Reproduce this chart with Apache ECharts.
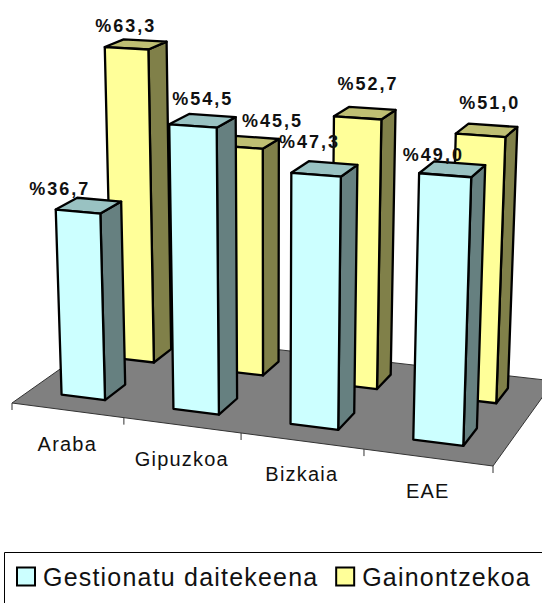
<!DOCTYPE html>
<html><head><meta charset="utf-8">
<style>
html,body{margin:0;padding:0;background:#fff}
#c{width:542px;height:603px}
text{letter-spacing:1.2px}
text[style*="bold"]{letter-spacing:2px}
</style>
<script src="https://cdn.jsdelivr.net/npm/echarts@6/dist/echarts.min.js"></script>
</head><body><div id="c"></div>
<script>
const categories = ['Araba','Gipuzkoa','Bizkaia','EAE'];
const seriesNames = ['Gestionatu daitekeena','Gainontzekoa'];
const gestionatu = [36.7,54.5,47.3,49.0];
const gainontzekoa = [63.3,45.5,52.7,51.0];
const yMax = 70;

// layout: floor of the 3-D box, projected with a plane homography + vertical vanishing point
const floorQuad = [[12,403],[493,466],[554,381],[114,331]];
const vanish = [270,7000], persp = -0.00075;
const barHalf = 0.197;           // half bar width, as fraction of a category band
const depthBlue = [0.16,0.36], depthYellow = [0.66,0.85];
const offsBlue = [[-29,-17],[0,-22],[-15,-27],[-19,-14]];
const offsYellow = [[-10,-18],[24,-21],[3,-29],[3,-27]];

const [p0,p1,p2,p3] = floorQuad;
const dx1=p1[0]-p2[0],dx2=p3[0]-p2[0],sx=p0[0]-p1[0]+p2[0]-p3[0];
const dy1=p1[1]-p2[1],dy2=p3[1]-p2[1],sy=p0[1]-p1[1]+p2[1]-p3[1];
const den=dx1*dy2-dx2*dy1;
const G=(sx*dy2-dx2*sy)/den,H=(dx1*sy-sx*dy1)/den;
const A=p1[0]-p0[0]+G*p1[0],B=p3[0]-p0[0]+H*p3[0];
const D=p1[1]-p0[1]+G*p1[1],E=p3[1]-p0[1]+H*p3[1];
function proj(u,v,h){
  const w=G*u+H*v+1, jh=persp*h, d=w+jh;
  return [(A*u+B*v+p0[0]+jh*vanish[0])/d,(D*u+E*v+p0[1]+jh*vanish[1])/d];
}
function barRenderer(depth,colors,offs){
  return function(params,api){
    const cat=api.value(0),val=api.value(1);
    const cs=params.coordSys;
    const pt=api.coord([cat,val]);
    const band=api.size([1,0])[0];
    const shift=-0.01*band;
    const u0=(pt[0]-cs.x-barHalf*band+shift)/cs.width,u1=(pt[0]-cs.x+barHalf*band+shift)/cs.width;
    const h=(cs.y+cs.height-pt[1])/cs.height*yMax;
    const [v0,v1]=depth;
    const poly=(pts,fill,z)=>({type:'polygon',shape:{points:pts},z2:z,
      style:{fill,stroke:'#000',lineWidth:2.3,lineJoin:'round'}});
    const c=proj((u0+u1)/2,(v0+v1)/2,h),o=offs[params.dataIndex];
    return {type:'group',children:[
      poly([proj(u1,v0,0),proj(u1,v1,0),proj(u1,v1,h),proj(u1,v0,h)],colors[2],1),
      poly([proj(u0,v0,h),proj(u1,v0,h),proj(u1,v1,h),proj(u0,v1,h)],colors[1],2),
      poly([proj(u0,v0,0),proj(u1,v0,0),proj(u1,v0,h),proj(u0,v0,h)],colors[0],3),
      {type:'text',z2:10,x:c[0]+o[0],y:c[1]+o[1],style:{
        text:'%'+val.toFixed(1).replace('.',','),fill:'#111',align:'center',verticalAlign:'middle',
        font:'bold 18px "Liberation Sans"'}}
    ]};
  };
}
const chart=echarts.init(document.getElementById('c'),null,{renderer:'svg',width:542,height:603});
chart.setOption({
  animation:false,
  grid:{left:0,top:0,width:400,height:400},
  xAxis:{type:'category',data:categories,show:false},
  yAxis:{type:'value',min:0,max:yMax,show:false},
  legend:{left:11,top:559,data:seriesNames,icon:'rect',itemWidth:18,itemHeight:18,itemGap:42,selectedMode:false,
    textStyle:{fontFamily:'Liberation Sans',fontSize:25,color:'#111',padding:[0,0,4,3]}},
  graphic:[{type:'rect',shape:{x:4.5,y:552.5,width:600,height:100},style:{fill:'none',stroke:'#000',lineWidth:1}}],
  series:[
    {type:'custom',name:'floor',clip:false,silent:true,data:categories.map((c,i)=>[i,0]),z:1,
     renderItem(params,api){
       const i=params.dataIndex, ch=[];
       if(i===0){
         ch.push({type:'polygon',shape:{points:floorQuad},style:{fill:'#808080',stroke:'#333',lineWidth:1}});
         const t=proj(0,0,0);
         ch.push({type:'line',shape:{x1:t[0],y1:t[1],x2:t[0],y2:t[1]+7},style:{stroke:'#333',lineWidth:1}});
       }
       const cs=params.coordSys,pt=api.coord([i,0]),band=api.size([1,0])[0];
       const ue=(pt[0]-cs.x+band/2)/cs.width,uc=(pt[0]-cs.x)/cs.width;
       const e=proj(ue,0,0),m=proj(uc,0,0);
       ch.push({type:'line',shape:{x1:e[0],y1:e[1],x2:e[0],y2:e[1]+7},style:{stroke:'#333',lineWidth:1}});
       ch.push({type:'text',x:m[0],y:m[1]+33.5,style:{text:categories[i],fill:'#111',align:'center',verticalAlign:'middle',
         font:'20px "Liberation Sans"'}});
       return {type:'group',children:ch};
     }},
    {type:'custom',name:seriesNames[1],clip:false,z:2,itemStyle:{color:'#FFFF99',borderColor:'#000',borderWidth:2},
     data:gainontzekoa.map((v,i)=>[i,v]),encode:{x:0,y:1},
     renderItem:barRenderer(depthYellow,['#FFFF99','#BFBF73','#808049'],offsYellow)},
    {type:'custom',name:seriesNames[0],clip:false,z:3,itemStyle:{color:'#CCFFFF',borderColor:'#000',borderWidth:2},
     data:gestionatu.map((v,i)=>[i,v]),encode:{x:0,y:1},
     renderItem:barRenderer(depthBlue,['#CCFFFF','#99C2C2','#668080'],offsBlue)}
  ]
});
</script></body></html>
